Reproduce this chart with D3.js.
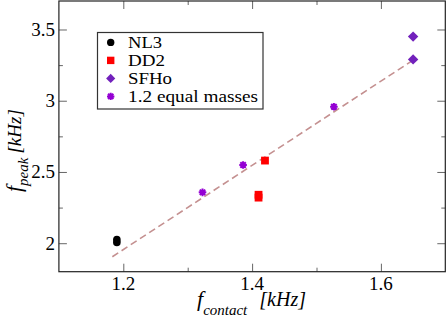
<!DOCTYPE html>
<html>
<head>
<meta charset="utf-8">
<script src="https://cdn.jsdelivr.net/npm/d3@7"></script>
<style>
  body { margin: 0; background: #fff; }
  svg { display: block; font-family: 'Liberation Serif', 'DejaVu Serif', serif; }
</style>
</head>
<body>
<div id="chart"></div>
<script>
// Data.
const nl3X = [1.19, 1.19];
const nl3Y = [2.025, 2.005];
const dd2X = [1.42, 1.41, 1.41];
const dd2Y = [2.58, 2.34, 2.32];
const sfhoX = [1.65, 1.65];
const sfhoY = [3.45, 3.29];
const equalX = [1.323, 1.386, 1.527];
const equalY = [2.357, 2.549, 2.958];
const fitX = [1.183, 1.65];
const fitY = [1.905, 3.285];

const xTicks = [1.2, 1.4, 1.6];
const xMinorTicks = [1.3, 1.5];
const yTicks = [2, 2.5, 3, 3.5];
const yMinorTicks = [2.25, 2.75, 3.25];
const legendLabels = ['NL3', 'DD2', 'SFHo', '1.2 equal masses'];
const legendKinds = ['circle', 'square', 'diamond', 'star'];
const legendWidths = [34, 37, 44, 130];

const colors = {
  circle: '#000000',
  square: '#ff0000',
  diamond: '#7221bc',
  star: '#9400d3',
  fit: '#c49090'
};

const width = 447, height = 318;
const margin = { left: 58.9, right: 1.7, top: 1, bottom: 46.3 };

const svg = d3.select('#chart')
  .append('svg')
    .attr('width', width)
    .attr('height', height);

const xScale = d3.scaleLinear()
  .domain([1.1, 1.7])
  .range([margin.left, width - margin.right]);
const yScale = d3.scaleLinear()
  .domain([1.8, 3.7])
  .range([height - margin.bottom, margin.top]);

const x0 = xScale.range()[0], x1 = xScale.range()[1];
const y0 = yScale.range()[0], y1 = yScale.range()[1];

// Mirrored inward ticks on all four sides.
function ticks(axisGen, scale, vals, len, transform) {
  svg.append('g')
    .attr('transform', transform)
    .call(axisGen(scale).tickValues(vals).tickSize(len).tickFormat(''))
    .call(g => g.select('.domain').remove())
    .call(g => g.selectAll('line').attr('stroke', '#666'));
}
ticks(d3.axisTop, xScale, xTicks, 8, 'translate(0,' + y0 + ')');
ticks(d3.axisTop, xScale, xMinorTicks, 4, 'translate(0,' + y0 + ')');
ticks(d3.axisBottom, xScale, xTicks, 8, 'translate(0,' + y1 + ')');
ticks(d3.axisBottom, xScale, xMinorTicks, 4, 'translate(0,' + y1 + ')');
ticks(d3.axisRight, yScale, yTicks, 8, 'translate(' + x0 + ',0)');
ticks(d3.axisRight, yScale, yMinorTicks, 4, 'translate(' + x0 + ',0)');
ticks(d3.axisLeft, yScale, yTicks, 8, 'translate(' + x1 + ',0)');
ticks(d3.axisLeft, yScale, yMinorTicks, 4, 'translate(' + x1 + ',0)');

// Frame.
svg.append('rect')
  .attr('x', x0)
  .attr('y', y1)
  .attr('width', x1 - x0)
  .attr('height', y0 - y1)
  .attr('fill', 'none')
  .attr('stroke', '#222')
  .attr('stroke-width', 1.2);

// Tick labels.
svg.append('g').selectAll('text')
  .data(xTicks)
  .enter().append('text')
    .attr('x', d => xScale(d))
    .attr('y', 289.5)
    .attr('text-anchor', 'middle')
    .attr('font-size', 19)
    .text(d => d.toFixed(1));
svg.append('g').selectAll('text')
  .data(yTicks)
  .enter().append('text')
    .attr('x', 55)
    .attr('y', d => yScale(d) + 6.5)
    .attr('text-anchor', 'end')
    .attr('font-size', 19)
    .text(d => d3.format('')(d));

// Axis titles.
const xt = svg.append('text')
  .attr('x', 197)
  .attr('y', 306)
  .attr('font-style', 'italic');
xt.append('tspan').attr('font-size', 22).text('f');
xt.append('tspan').attr('font-size', 15).attr('dy', 9).text('contact');
xt.append('tspan').attr('font-size', 20).attr('dy', -9).attr('dx', 12).text('[kHz]');

const yt = svg.append('text')
  .attr('transform', 'translate(21,192) rotate(-90)')
  .attr('font-style', 'italic');
yt.append('tspan').attr('font-size', 22).text('f');
yt.append('tspan').attr('font-size', 15).attr('dy', 7).text('peak');
yt.append('tspan').attr('font-size', 19).attr('dy', -7).attr('dx', 4).text('[kHz]');

// Symbol painter.
function drawSymbol(g, kind, cx, cy, s) {
  if (kind === 'circle') {
    g.append('circle').attr('cx', cx).attr('cy', cy).attr('r', s / 2)
      .attr('fill', colors.circle);
  } else if (kind === 'square') {
    g.append('rect').attr('x', cx - s / 2).attr('y', cy - s / 2)
      .attr('width', s).attr('height', s).attr('fill', colors.square);
  } else if (kind === 'diamond') {
    const r = s * 0.62;
    g.append('path')
      .attr('d', 'M' + cx + ',' + (cy - r) + 'L' + (cx + r) + ',' + cy +
        'L' + cx + ',' + (cy + r) + 'L' + (cx - r) + ',' + cy + 'Z')
      .attr('fill', colors.diamond);
  } else {
    const r = s / 2, d = r * 0.72;
    g.append('path')
      .attr('d', 'M' + (cx - r) + ',' + cy + 'H' + (cx + r) +
        'M' + cx + ',' + (cy - r) + 'V' + (cy + r) +
        'M' + (cx - d) + ',' + (cy - d) + 'L' + (cx + d) + ',' + (cy + d) +
        'M' + (cx - d) + ',' + (cy + d) + 'L' + (cx + d) + ',' + (cy - d))
      .attr('stroke', colors.star)
      .attr('stroke-width', 2)
      .attr('fill', 'none');
  }
}

// Fit line.
svg.append('path')
  .datum(d3.zip(fitX, fitY))
  .attr('d', d3.line().x(d => xScale(d[0])).y(d => yScale(d[1])))
  .attr('fill', 'none')
  .attr('stroke', colors.fit)
  .attr('stroke-width', 1.6)
  .attr('stroke-dasharray', '7,4');

// Points.
const pts = svg.append('g');
d3.zip(nl3X, nl3Y).forEach(d => drawSymbol(pts, 'circle', xScale(d[0]), yScale(d[1]), 7.6));
d3.zip(dd2X, dd2Y).forEach(d => drawSymbol(pts, 'square', xScale(d[0]), yScale(d[1]), 7.8));
d3.zip(sfhoX, sfhoY).forEach(d => drawSymbol(pts, 'diamond', xScale(d[0]), yScale(d[1]), 8.4));
d3.zip(equalX, equalY).forEach(d => drawSymbol(pts, 'star', xScale(d[0]), yScale(d[1]), 7.6));

// Legend.
const legend = svg.append('g');
legend.append('rect')
  .attr('x', 97.5)
  .attr('y', 32.5)
  .attr('width', 165.5)
  .attr('height', 76.5)
  .attr('fill', '#fff')
  .attr('stroke', '#333')
  .attr('stroke-width', 1.2);
legendLabels.forEach((label, i) => {
  const cy = 42.4 + i * 18;
  drawSymbol(legend, legendKinds[i], 110.7, cy, 7.4);
  legend.append('text')
    .attr('x', 128)
    .attr('y', cy + 6)
    .attr('font-size', 16)
    .attr('textLength', legendWidths[i])
    .attr('lengthAdjust', 'spacingAndGlyphs')
    .text(label);
});
</script>
</body>
</html>
